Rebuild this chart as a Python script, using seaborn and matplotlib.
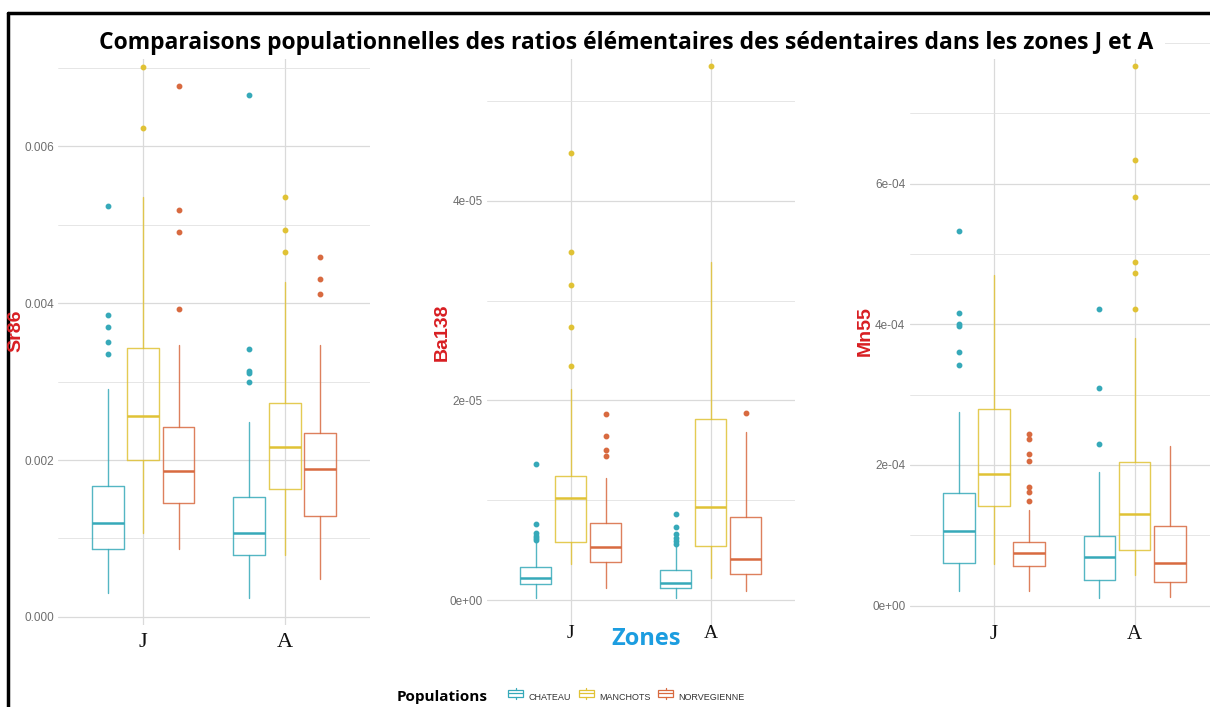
import matplotlib
matplotlib.use('Agg')
import matplotlib.pyplot as plt
import seaborn as sns
import pandas as pd
import numpy as np
from matplotlib.patches import Patch, Rectangle
from matplotlib.lines import Line2D
from matplotlib.legend_handler import HandlerBase

zones = ['J', 'A']
populations = ['CHATEAU', 'MANCHOTS', 'NORVEGIENNE']
colors = ['#36A9B9', '#E0C235', '#D86A40']

# box stats, order: J-CHATEAU, J-MANCHOTS, J-NORVEGIENNE, A-CHATEAU, A-MANCHOTS, A-NORVEGIENNE
sr86_whislo = [0.00031, 0.00107, 0.00086, 0.00024, 0.00079, 0.00049]
sr86_q1 = [0.00086, 0.00200, 0.00145, 0.00079, 0.00163, 0.00129]
sr86_med = [0.00120, 0.00256, 0.00186, 0.00107, 0.00217, 0.00188]
sr86_q3 = [0.00167, 0.00343, 0.00242, 0.00153, 0.00272, 0.00234]
sr86_whishi = [0.00290, 0.00535, 0.00347, 0.00248, 0.00427, 0.00347]
sr86_out = [[0.00335, 0.00350, 0.00369, 0.00385, 0.00523],
            [0.00623, 0.00701],
            [0.00393, 0.00490, 0.00518, 0.00676],
            [0.00300, 0.00311, 0.00313, 0.00342, 0.00665],
            [0.00465, 0.00493, 0.00535],
            [0.00412, 0.00431, 0.00458]]

ba138_whislo = [0.17e-6, 3.6e-6, 1.23e-6, 0.17e-6, 2.18e-6, 0.9e-6]
ba138_q1 = [1.57e-6, 5.85e-6, 3.84e-6, 1.17e-6, 5.45e-6, 2.57e-6]
ba138_med = [2.18e-6, 10.26e-6, 5.28e-6, 1.74e-6, 9.36e-6, 4.1e-6]
ba138_q3 = [3.34e-6, 12.46e-6, 7.72e-6, 3.0e-6, 18.1e-6, 8.35e-6]
ba138_whishi = [5.8e-6, 21.2e-6, 12.26e-6, 5.4e-6, 33.9e-6, 16.8e-6]
ba138_out = [[6.0e-6, 6.2e-6, 6.4e-6, 6.7e-6, 7.6e-6, 13.6e-6],
             [23.5e-6, 27.4e-6, 31.6e-6, 34.9e-6, 44.8e-6],
             [14.4e-6, 15.0e-6, 16.4e-6, 18.6e-6],
             [5.6e-6, 5.9e-6, 6.2e-6, 6.6e-6, 7.3e-6, 8.6e-6],
             [53.5e-6],
             [18.7e-6]]

mn55_whislo = [0.209e-4, 0.593e-4, 0.213e-4, 0.105e-4, 0.436e-4, 0.119e-4]
mn55_q1 = [0.607e-4, 1.42e-4, 0.56e-4, 0.36e-4, 0.787e-4, 0.337e-4]
mn55_med = [1.058e-4, 1.87e-4, 0.749e-4, 0.692e-4, 1.299e-4, 0.611e-4]
mn55_q3 = [1.598e-4, 2.79e-4, 0.905e-4, 0.995e-4, 2.038e-4, 1.137e-4]
mn55_whishi = [2.76e-4, 4.70e-4, 1.36e-4, 1.896e-4, 3.81e-4, 2.27e-4]
mn55_out = [[3.42e-4, 3.60e-4, 3.97e-4, 4.01e-4, 4.16e-4, 5.33e-4],
            [],
            [1.484e-4, 1.62e-4, 1.69e-4, 2.06e-4, 2.15e-4, 2.37e-4, 2.44e-4],
            [2.30e-4, 3.09e-4, 4.22e-4],
            [4.22e-4, 4.73e-4, 4.88e-4, 5.81e-4, 6.34e-4, 7.67e-4],
            []]

sr86_ticks = [0.0, 0.002, 0.004, 0.006]
sr86_labels = ['0.000', '0.002', '0.004', '0.006']
ba138_ticks = [0.0, 2e-5, 4e-5]
ba138_labels = ['0e+00', '2e-05', '4e-05']
mn55_ticks = [0.0, 2e-4, 4e-4, 6e-4]
mn55_labels = ['0e+00', '2e-04', '4e-04', '6e-04']

sns.set_theme(style='white')
plt.rcParams['font.family'] = ['Liberation Sans', 'DejaVu Sans']

W, H = 1210, 707
fig = plt.figure(figsize=(W / 100, H / 100), dpi=100)


def px_axes(left, right, top, bottom):
    return fig.add_axes([left / W, 1 - bottom / H, (right - left) / W, (bottom - top) / H])


def draw_panel(ax, whislo, q1, med, q3, whishi, out, ylim, ticks, labels, xsize, xpad):
    for i, z in enumerate(zones):
        for j, p in enumerate(populations):
            k = i * 3 + j
            c = colors[j]
            s = {'whislo': whislo[k], 'q1': q1[k], 'med': med[k], 'q3': q3[k],
                 'whishi': whishi[k], 'fliers': out[k]}
            ax.bxp([s], positions=[i + (j - 1) * 0.25], widths=0.225, showcaps=False,
                   boxprops=dict(color=c, linewidth=1.0, alpha=0.85),
                   whiskerprops=dict(color=c, linewidth=1.0, alpha=0.85),
                   medianprops=dict(color=c, linewidth=1.8),
                   flierprops=dict(marker='o', markerfacecolor=c, markeredgecolor=c,
                                   markersize=3.2, linestyle='none'))
    ax.set_yticks(ticks)
    ax.set_yticklabels(labels)
    step = ticks[1] - ticks[0]
    minor = [t + step / 2 for t in ticks] + [ticks[-1] + step]
    ax.set_yticks(minor, minor=True)
    ax.set_xticks([0, 1])
    ax.set_xticklabels(zones, fontfamily='Liberation Serif', fontsize=xsize, color='#111111')
    # limits after the ticks, so the ticks do not widen them
    ax.set_xlim(-0.6, 1.6)
    ax.set_ylim(*ylim)
    ax.grid(True, which='major', axis='both', color='#DADADA', linewidth=0.9)
    ax.grid(True, which='minor', axis='y', color='#E2E2E2', linewidth=0.6)
    ax.set_axisbelow(True)
    for sp in ax.spines.values():
        sp.set_visible(False)
    ax.tick_params(axis='y', which='both', length=0, labelsize=8.5, labelcolor='#6E6E6E', pad=3)
    ax.tick_params(axis='x', length=0, pad=xpad)
    ax.set_xlabel('')
    ax.set_ylabel('')


# small box-plot glyph for the legend keys
class BoxKey(HandlerBase):
    def create_artists(self, legend, orig, x0, y0, width, height, fontsize, trans):
        c = orig.get_edgecolor()
        box = Rectangle((x0, y0 + height * 0.15), width, height * 0.7, facecolor='white',
                        edgecolor=c, linewidth=0.9, transform=trans)
        mid = Line2D([x0, x0 + width], [y0 + height / 2] * 2, color=c, linewidth=0.9,
                     transform=trans)
        top = Line2D([x0 + width / 2] * 2, [y0 + height * 0.85, y0 + height * 1.05], color=c,
                     linewidth=0.9, transform=trans)
        bot = Line2D([x0 + width / 2] * 2, [y0 - height * 0.05, y0 + height * 0.15], color=c,
                     linewidth=0.9, transform=trans)
        return [box, mid, top, bot]


ax1 = px_axes(58, 370, 39.5, 625)
draw_panel(ax1, sr86_whislo, sr86_q1, sr86_med, sr86_q3, sr86_whishi, sr86_out,
           (-1.02e-4, 7.357e-3), sr86_ticks, sr86_labels, 16, 6)

ax2 = px_axes(486.7, 794.7, 39.5, 625)
draw_panel(ax2, ba138_whislo, ba138_q1, ba138_med, ba138_q3, ba138_whishi, ba138_out,
           (-2.506e-6, 5.619e-5), ba138_ticks, ba138_labels, 14, 0)

ax3 = px_axes(909.6, 1219, 39.5, 625)
draw_panel(ax3, mn55_whislo, mn55_q1, mn55_med, mn55_q3, mn55_whishi, mn55_out,
           (-2.743e-5, 8.048e-4), mn55_ticks, mn55_labels, 15, 0)

# title band covers the top of the panels
fig.patches.append(Rectangle((30 / W, 1 - 59 / H), 1135 / W, 40 / H, transform=fig.transFigure,
                             facecolor='white', edgecolor='none', zorder=5))
fig.text(626 / W, 1 - 49 / H,
         'Comparaisons populationnelles des ratios élémentaires des sédentaires dans les zones J et A',
         ha='center', va='baseline', fontsize=16.5, fontweight='bold', fontfamily='Open Sans',
         color='black', zorder=6)

# frame on the left and top
fig.add_artist(Line2D([8 / W, 8 / W], [0, 1 - 13 / H], transform=fig.transFigure,
                      color='black', linewidth=2.5))
fig.add_artist(Line2D([8 / W, 1], [1 - 13 / H, 1 - 13 / H], transform=fig.transFigure,
                      color='black', linewidth=2.5))

red = '#D81E22'
fig.text(16 / W, 1 - 331 / H, 'Sr86', rotation=90, ha='center', va='center',
         fontsize=14, fontweight='bold', color=red)
fig.text(442 / W, 1 - 332 / H, 'Ba138', rotation=90, ha='center', va='center',
         fontsize=14, fontweight='bold', color=red)
fig.text(865 / W, 1 - 331 / H, 'Mn55', rotation=90, ha='center', va='center',
         fontsize=14, fontweight='bold', color=red)

fig.text(646 / W, 1 - 639 / H, 'Zones', ha='center', va='center', fontsize=17,
         fontweight='bold', fontfamily='Open Sans', color='#1C9DE0')

fig.text(397 / W, 1 - 697 / H, 'Populations', ha='left', va='center', fontsize=11,
         fontweight='bold', fontfamily='Open Sans', color='black')
handles = [Patch(facecolor='white', edgecolor=c, linewidth=1.0) for c in colors]
fig.legend(handles, populations, loc='center left', bbox_to_anchor=(500 / W, 1 - 697 / H),
           ncol=3, frameon=False, fontsize=6.5, handlelength=1.7, handleheight=1.3,
           handletextpad=0.6, columnspacing=0.8, labelcolor='#333333',
           handler_map={Patch: BoxKey()})

fig.savefig('out.png', dpi=100)
